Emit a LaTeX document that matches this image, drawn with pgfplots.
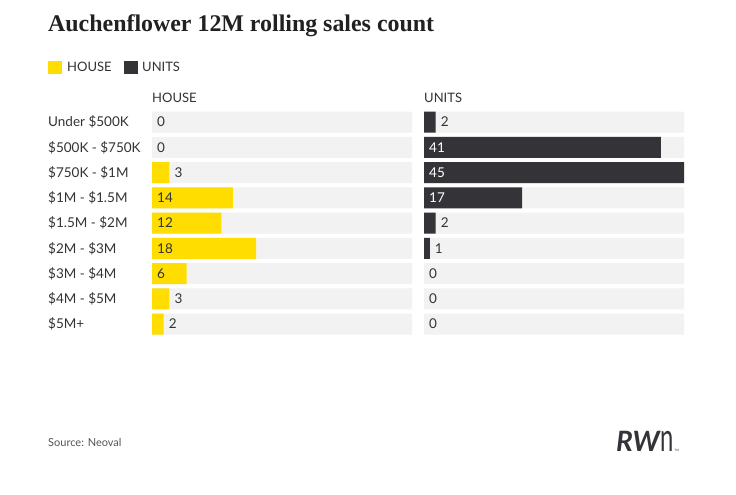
\documentclass[border=0pt]{standalone}
\usepackage{pgfplots}
\pgfplotsset{compat=1.18}
\usepackage{fontspec}
\setmainfont{Lato}
\newfontfamily\titlefont{Liberation Serif}
\definecolor{hyellow}{RGB}{255,221,0}
\definecolor{udark}{RGB}{51,51,56}
\definecolor{bggray}{RGB}{242,242,242}
\definecolor{txt}{RGB}{51,51,51}
\definecolor{srcgray}{RGB}{85,85,85}

\pgfplotsset{
  panel/.style={
    anchor=south west, scale only axis, width=260pt, height=227.25pt,
    xmin=0, xmax=45, ymin=-0.5, ymax=8.5, y dir=reverse,
    axis line style={draw=none}, xtick=\empty, major tick length=0pt,
    tick style={draw=none}, clip=false,
  },
  bg/.style={xbar, bar width=21pt, bar shift=0pt, fill=bggray, draw=none},
  databar/.style={xbar, bar width=21pt, bar shift=0pt, fill=#1, draw=none, restrict x to domain=0.001:100},
  vlab/.style={draw=none, mark=none, nodes near coords, point meta=explicit symbolic,
    nodes near coords style={anchor=west, inner sep=0pt, xshift=5pt,
      font=\fontsize{13.5}{15}\selectfont, text height=9.6pt, text depth=0pt, text=#1}},
}

\begin{document}
\begin{tikzpicture}[x=1pt,y=1pt]
\path[use as bounding box, fill=white] (0,0) rectangle (736,495);

% title
\node[anchor=base west, inner sep=0pt, text=black!87] at (48,463)
  {\titlefont\bfseries\fontsize{23.9}{28}\selectfont Auchenflower 12M rolling sales count};

% legend
\fill[hyellow] (48,421) rectangle (62,434);
\node[anchor=base west, inner sep=0pt, text=txt] at (67,423.3) {\fontsize{13}{15}\selectfont HOUSE};
\fill[udark] (124,421) rectangle (138,434);
\node[anchor=base west, inner sep=0pt, text=txt] at (142,423.3) {\fontsize{13}{15}\selectfont UNITS};

% panel titles
\node[anchor=base west, inner sep=0pt, text=txt] at (152,392.3) {\fontsize{13}{15}\selectfont HOUSE};
\node[anchor=base west, inner sep=0pt, text=txt] at (424,392.3) {\fontsize{13}{15}\selectfont UNITS};

% HOUSE panel
\begin{axis}[panel, at={(152pt,158.375pt)},
  ytick={0,...,8},
  yticklabels={Under \$500K, \$500K - \$750K, \$750K - \$1M, \$1M - \$1.5M, \$1.5M - \$2M, \$2M - \$3M, \$3M - \$4M, \$4M - \$5M, \$5M+},
  yticklabel style={anchor=west, inner sep=0pt, xshift=-104pt, font=\fontsize{13.5}{15}\selectfont, text=txt, text height=9.7pt, text depth=0pt},
]
\addplot[bg] coordinates {(45,0) (45,1) (45,2) (45,3) (45,4) (45,5) (45,6) (45,7) (45,8)};
\addplot[databar=hyellow] coordinates {(0,0) (0,1) (3,2) (14,3) (12,4) (18,5) (6,6) (3,7) (2,8)};
\addplot[vlab=txt] coordinates {(0,0) [0] (0,1) [0] (3,2) [3] (0,3) [14] (0,4) [12] (0,5) [18] (0,6) [6] (3,7) [3] (2,8) [2]};
\end{axis}

% UNITS panel
\begin{axis}[panel, at={(424pt,158.375pt)}, ytick=\empty]
\addplot[bg] coordinates {(45,0) (45,1) (45,2) (45,3) (45,4) (45,5) (45,6) (45,7) (45,8)};
\addplot[databar=udark] coordinates {(2,0) (41,1) (45,2) (17,3) (2,4) (1,5) (0,6) (0,7) (0,8)};
\addplot[vlab=white] coordinates {(0,1) [41] (0,2) [45] (0,3) [17]};
\addplot[vlab=txt] coordinates {(2,0) [2] (2,4) [2] (1,5) [1] (0,6) [0] (0,7) [0] (0,8) [0]};
\end{axis}

% source
\node[anchor=base west, inner sep=0pt, text=srcgray] at (48,48) {\fontsize{11}{13}\selectfont Source: Neoval};

% logo
\node[anchor=base west, inner sep=0pt, text=udark] at (616,43)
  {\fontsize{28}{30}\selectfont\bfseries\itshape RW\kern1pt\upshape\mdseries\scalebox{0.85}[1.4]{n}\kern0.5pt\raisebox{0pt}{\fontsize{3}{4}\selectfont TM}};
\end{tikzpicture}
\end{document}
